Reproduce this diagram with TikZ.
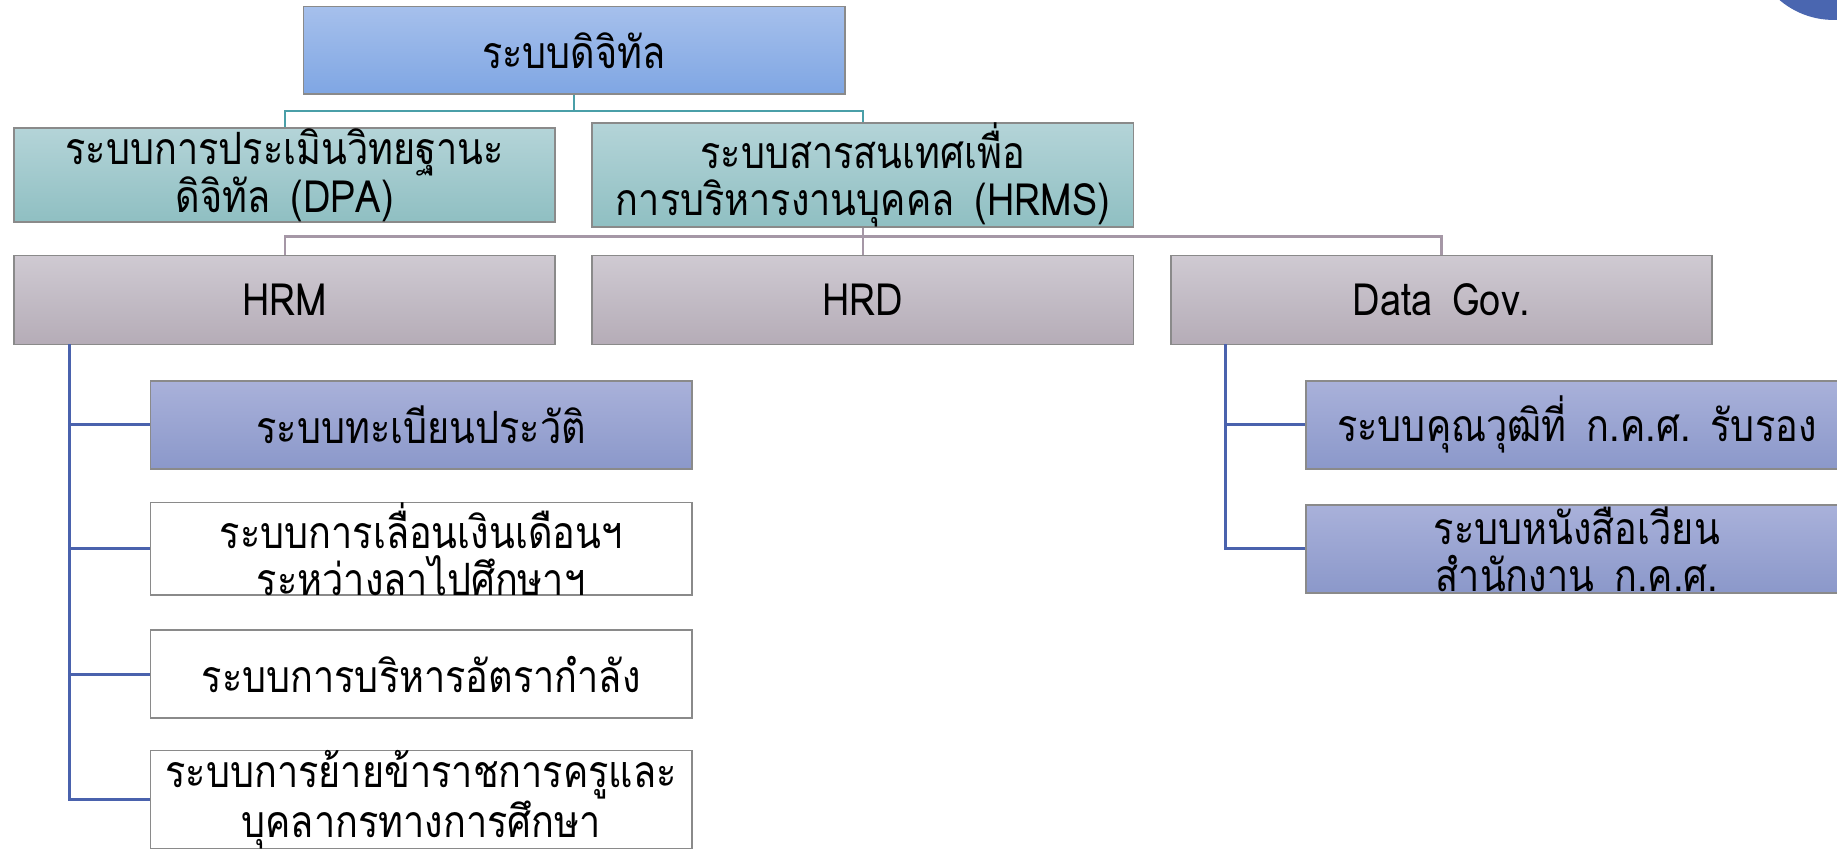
\documentclass[tikz,border=0pt]{standalone}
\usepackage{fontspec}
\newfontfamily\thai[Script=Thai,FakeStretch=0.85]{Loma}
\newcommand{\gap}{\hspace{0.45em}}
\definecolor{topA}{HTML}{A6C0EC}
\definecolor{topB}{HTML}{7FA6E3}
\definecolor{tealA}{HTML}{B4D4D8}
\definecolor{tealB}{HTML}{8FBFC2}
\definecolor{mauA}{HTML}{CFCAD2}
\definecolor{mauB}{HTML}{B5ACB7}
\definecolor{bluA}{HTML}{A9B1DA}
\definecolor{bluB}{HTML}{8B98CA}
\definecolor{tealL}{HTML}{4A9FA8}
\definecolor{mauL}{HTML}{A597A6}
\definecolor{bluL}{HTML}{4A62AD}
\definecolor{edge}{HTML}{8A8A8A}
\definecolor{dot}{HTML}{4A66B0}
\begin{document}
\begin{tikzpicture}[x=1pt,y=-1pt,
  box/.style={draw=edge,line width=1.5pt,minimum width=462pt,minimum height=75pt,inner sep=0pt,
    align=center,font=\thai\fontsize{38}{40}\selectfont},
  topbox/.style={box,top color=topA,bottom color=topB},
  tealbox/.style={box,top color=tealA,bottom color=tealB},
  maubox/.style={box,top color=mauA,bottom color=mauB},
  blubox/.style={box,top color=bluA,bottom color=bluB},
  whitebox/.style={box,fill=white},
  tealline/.style={draw=tealL,line width=2pt},
  mauline/.style={draw=mauL,line width=2pt},
  bluline/.style={draw=bluL,line width=2.5pt}]
\useasboundingbox (0,0) rectangle (1568,724);
\fill[dot] (1565,-54) circle (71);
\node[topbox] (top) at (490,43) {ระบบดิจิทัล};
\node[tealbox] (dpa) at (243,149.5) {ระบบการประเมินวิทยฐานะ\\ดิจิทัล\gap(DPA)};
\node[tealbox] (hrms) at (736.5,149.5) {ระบบสารสนเทศเพื่อ\\การบริหารงานบุคคล\gap(HRMS)};
\node[maubox,minimum height=76pt] (hrm) at (243,256) {HRM};
\node[maubox,minimum height=76pt] (hrd) at (736.5,256) {HRD};
\node[maubox,minimum height=76pt] (dg) at (1230.5,256) {Data\gap Gov.};
\node[blubox] (c1) at (359.5,362.5) {ระบบทะเบียนประวัติ};
\node[whitebox] (c2) at (359.5,468.5) {ระบบการเลื่อนเงินเดือนฯ\\ระหว่างลาไปศึกษาฯ};
\node[whitebox] (c3) at (359.5,575.5) {ระบบการบริหารอัตรากำลัง};
\node[whitebox] (c4) at (359.5,682.5) {ระบบการย้ายข้าราชการครูและ\\บุคลากรทางการศึกษา};
\node[blubox] (d1) at (1346,362.5) {ระบบคุณวุฒิที่\gap ก.ค.ศ.\gap รับรอง};
\node[blubox] (d2) at (1346,468.5) {ระบบหนังสือเวียน\\สำนักงาน\gap ก.ค.ศ.};
\coordinate (j1) at (490,95);
\coordinate (j2) at (736.5,202);
\coordinate (t1) at (59,294);
\coordinate (t2) at (1046,294);
\draw[tealline] (top.south) -- (j1);
\draw[tealline] (j1) -| (dpa.north);
\draw[tealline] (j1) -| (hrms.north);
\draw[mauline] (hrms.south) -- (j2);
\draw[mauline] (j2) -| (hrm.north);
\draw[mauline] (j2) -- (hrd.north);
\draw[mauline] (j2) -| (dg.north);
\draw[bluline] (t1) |- (c1.west);
\draw[bluline] (t1) |- (c2.west);
\draw[bluline] (t1) |- (c3.west);
\draw[bluline] (t1) |- (c4.west);
\draw[bluline] (t2) |- (d1.west);
\draw[bluline] (t2) |- (d2.west);
\end{tikzpicture}
\end{document}
